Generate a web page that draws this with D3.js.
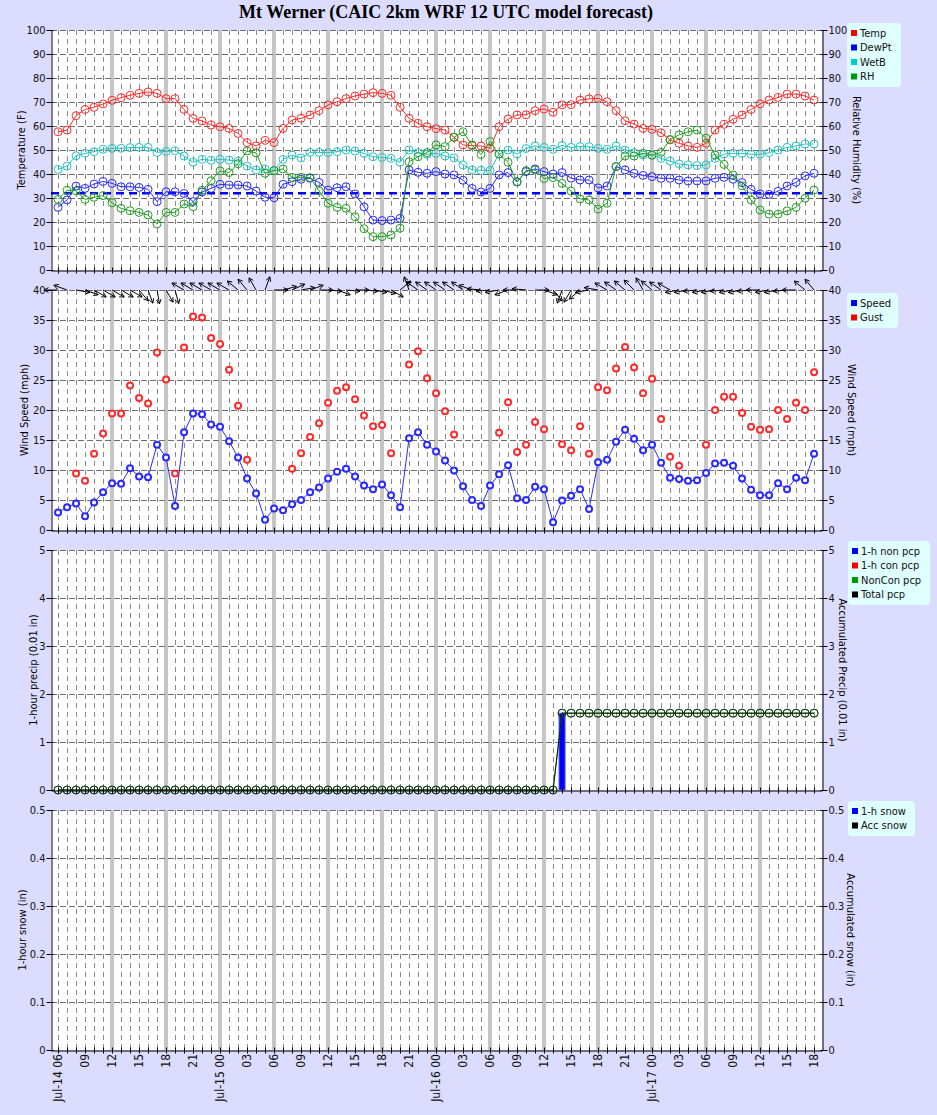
<!DOCTYPE html>
<html>
<head>
<meta charset="utf-8">
<script src="https://cdn.jsdelivr.net/npm/d3@7"></script>
<style>
  body { margin: 0; background: #dcdcff; }
  svg text { font-family: "DejaVu Sans Condensed", "DejaVu Sans", sans-serif; }
</style>
</head>
<body>
<svg id="chart" width="937" height="1115"></svg>
<script>
// hourly forecast times, Jul-14 06 UTC .. Jul-17 18 UTC
var times = d3.utcHour.range(new Date(Date.UTC(2020, 6, 14, 6)), new Date(Date.UTC(2020, 6, 17, 19)));

var temp = [57.6,58.3,64.3,66.9,67.8,69.2,70.7,71.8,72.8,73.6,
  74.2,73.6,71.4,71.4,66.9,63.2,62.1,60.4,59.7,59.0,
  56.9,53.1,51.7,54.0,53.1,59.0,62.5,63.2,64.6,66.4,
  68.8,70.1,71.4,72.5,73.3,73.9,73.6,72.8,67.8,63.2,
  61.1,59.7,58.9,58.3,55.3,52.1,51.8,51.7,50.7,59.7,
  62.9,64.6,64.7,66.4,67.1,65.7,68.8,68.9,70.8,71.3,
  71.5,70.1,66.4,62.2,60.8,59.0,58.6,57.2,54.2,52.8,
  51.7,51.1,52.8,58.3,60.7,62.8,64.6,66.9,69.2,70.8,
  71.9,73.3,73.3,72.5,70.8];

var dewpt = [26.1,29.2,35.0,34.0,35.8,36.9,36.1,34.7,34.7,34.4,
  33.6,28.5,32.6,32.6,31.9,28.5,32.5,34.0,35.7,35.4,
  35.4,35.0,32.9,30.3,30.1,35.7,36.8,37.8,38.2,36.5,
  33.3,34.3,34.7,31.7,26.3,20.8,20.6,20.8,21.5,41.7,
  40.7,40.3,41.0,40.0,39.6,37.4,34.0,32.5,34.0,39.6,
  40.6,36.7,41.0,42.1,41.0,40.0,40.6,38.3,37.5,37.5,
  34.2,35.0,43.1,41.7,40.3,39.4,38.9,38.2,38.2,37.5,
  37.1,37.1,37.1,38.2,38.6,37.8,36.4,33.6,31.7,31.5,
  32.8,35.0,36.5,39.2,40.3];

var wetb = [41.9,43.3,47.6,48.6,49.3,50.3,50.7,50.7,51.0,51.1,
  51.1,49.0,49.4,49.7,47.5,44.9,46.1,45.7,46.1,45.8,
  45.4,43.3,41.7,42.1,41.4,46.1,47.9,46.7,49.0,49.0,
  48.9,49.3,50.0,49.6,48.6,47.2,46.9,46.5,44.9,50.0,
  48.9,48.2,48.6,47.5,46.7,43.8,41.7,41.5,41.5,48.3,
  50.0,48.3,50.6,51.7,51.1,50.3,51.9,51.1,51.4,51.4,
  50.7,50.3,51.7,50.0,48.9,47.9,47.8,46.5,45.4,44.2,
  43.8,43.5,43.8,46.5,48.3,48.6,48.6,48.2,48.2,48.9,
  50.0,51.1,51.7,52.5,52.5];

var rh = [29.4,33.2,33.0,29.4,30.3,31.0,28.0,25.7,24.7,24.0,
  22.9,19.2,24.0,24.0,27.5,26.4,33.2,37.2,41.3,40.6,
  44.3,49.6,48.8,40.3,41.4,42.1,38.6,38.6,38.5,33.0,
  27.8,26.1,25.7,22.2,17.2,13.9,13.9,14.6,17.4,45.1,
  47.2,48.9,52.1,51.4,55.3,57.6,52.1,48.1,53.5,48.3,
  44.9,36.8,41.4,41.7,38.1,38.5,36.1,32.9,29.6,29.2,
  25.4,27.8,43.1,47.5,47.5,48.6,47.9,49.0,54.4,56.3,
  57.6,58.3,54.9,47.9,44.0,39.6,35.1,29.2,25.0,23.3,
  23.3,24.6,26.1,29.9,33.3];

var freezing = 32;

var speed = [2.9,3.8,4.4,2.3,4.6,6.3,7.8,7.7,10.3,8.9,
  8.8,14.2,12.1,4.0,16.3,19.4,19.3,17.6,17.2,14.8,
  12.1,8.6,6.1,1.7,3.6,3.3,4.3,5.0,6.3,7.1,
  8.6,9.7,10.2,8.9,7.4,6.8,7.6,5.8,3.8,15.3,
  16.3,14.2,13.1,11.6,9.9,7.3,5.0,4.0,7.4,9.3,
  10.8,5.3,5.0,7.2,6.8,1.3,4.9,5.7,6.8,3.5,
  11.3,11.7,14.7,16.7,15.2,13.3,14.2,11.2,8.7,8.5,
  8.2,8.3,9.5,11.1,11.2,10.7,8.6,6.7,5.8,5.8,
  7.8,6.8,8.7,8.3,12.7];

var gust = [null,null,9.4,8.2,12.7,16.1,19.4,19.4,24.1,22.0,
  21.1,29.6,25.1,9.4,30.4,35.6,35.4,32.0,31.0,26.7,
  20.7,11.7,null,null,null,null,10.2,12.8,15.5,17.8,
  21.2,23.2,23.8,21.8,19.1,17.3,17.5,12.8,null,27.6,
  29.8,25.3,22.8,19.8,15.9,null,null,null,null,16.2,
  21.3,13.0,14.2,18.0,16.8,null,14.3,13.3,17.3,12.7,
  23.8,23.3,26.9,30.5,27.1,22.8,25.2,18.5,12.2,10.7,
  null,null,14.2,20.0,22.2,22.2,19.5,17.2,16.7,16.8,
  20.0,18.5,21.2,20.0,26.3];

// direction the wind blows from (deg)
var windDir = [90,110,280,290,300,300,300,300,300,320,
  340,350,330,345,120,120,120,120,120,120,
  130,140,150,200,270,255,245,260,250,270,
  275,290,275,270,275,280,285,300,230,160,
  125,125,125,125,125,125,110,95,85,80,
  70,90,95,270,290,320,20,30,50,80,
  100,120,125,130,135,150,130,125,120,80,
  80,85,80,80,85,80,80,85,90,80,
  80,85,90,130,140];

// 1-hour precip, hundredths of an inch
var pcpNonCon = [0,0,0,0,0,0,0,0,0,0,
  0,0,0,0,0,0,0,0,0,0,
  0,0,0,0,0,0,0,0,0,0,
  0,0,0,0,0,0,0,0,0,0,
  0,0,0,0,0,0,0,0,0,0,
  0,0,0,0,0,0,1.6,0,0,0,
  0,0,0,0,0,0,0,0,0,0,
  0,0,0,0,0,0,0,0,0,0,
  0,0,0,0,0];
var pcpCon = pcpNonCon.map(function(){ return 0; });

var yTicks1 = d3.range(0, 101, 10);
var yTicks2 = d3.range(0, 41, 5);
var yTicks3 = [0,1,2,3,4,5];
var yTicks4 = [0,0.1,0.2,0.3,0.4,0.5];

var svg = d3.select('#chart');
var plotLeft = 51, plotRight = 822;

svg.append('rect').attr('width', 937).attr('height', 1115).attr('fill', '#dcdcff');

svg.append('text')
  .attr('x', 446).attr('y', 18)
  .attr('text-anchor', 'middle')
  .style('font-family', '"Liberation Serif", "DejaVu Serif", serif')
  .style('font-weight', 'bold')
  .style('font-size', '18px')
  .text('Mt Werner (CAIC 2km WRF 12 UTC model forecast)');

var x = d3.scaleUtc()
  .domain([d3.utcMinute.offset(times[0], -47), d3.utcMinute.offset(times[times.length - 1], 53)])
  .range([plotLeft, plotRight]);

// pixel-snapped x for grid lines
function px(d) { return Math.round(x(d)) + 0.5; }

// gray bars at 00/06/12/18, not at the ends
var bandTimes = times.filter(function(t, i){
  return i > 0 && i < times.length - 1 && t.getUTCHours() % 6 === 0;
});

function drawFrame(p) {
  var y = d3.scaleLinear().domain([0, p.max]).range([p.bottom, p.top]);
  var g = svg.append('g');

  g.append('rect')
    .attr('x', plotLeft).attr('y', p.top)
    .attr('width', plotRight - plotLeft).attr('height', p.bottom - p.top)
    .attr('fill', '#fff');

  // hourly dashed grid
  g.selectAll('.vgrid').data(times).enter().append('line')
    .attr('x1', px).attr('x2', px)
    .attr('y1', p.top).attr('y2', p.bottom)
    .attr('stroke', '#8a8a8a').attr('stroke-dasharray', '5,4');

  g.selectAll('.band').data(bandTimes).enter().append('rect')
    .attr('x', function(d){ return Math.round(x(d)) - 2; })
    .attr('y', p.top).attr('width', 4).attr('height', p.bottom - p.top)
    .attr('fill', '#c6c6c6').attr('shape-rendering', 'crispEdges');

  g.selectAll('.hgrid').data(p.ticks.slice(1)).enter().append('line')
    .attr('x1', plotLeft).attr('x2', plotRight)
    .attr('y1', function(d){ return Math.round(y(d)) + 0.5; })
    .attr('y2', function(d){ return Math.round(y(d)) + 0.5; })
    .attr('stroke', '#6e6e6e').attr('stroke-dasharray', '6,3');

  p.y = y;
  p.g = g;
  return p;
}

function drawAxes(p) {
  var y = p.y;
  var fmt = d3.format('~g');
  var g = svg.append('g');

  var left = g.append('g').attr('transform', 'translate(' + (plotLeft + 0.5) + ',0)')
    .call(d3.axisLeft(y).tickValues(p.ticks).tickFormat(fmt).tickSizeInner(5).tickSizeOuter(0).tickPadding(1));
  left.selectAll('.tick line').attr('x1', 2);

  var right = g.append('g').attr('transform', 'translate(' + (plotRight + 0.5) + ',0)')
    .call(d3.axisRight(y).tickValues(p.ticks).tickFormat(fmt).tickSizeInner(5).tickSizeOuter(0).tickPadding(1));
  right.selectAll('.tick line').attr('x1', -2);

  var bottom = g.append('g').attr('transform', 'translate(0,' + (p.bottom + 0.5) + ')')
    .call(d3.axisBottom(x).tickValues(times).tickFormat('').tickSizeInner(3).tickSizeOuter(0));
  bottom.selectAll('.tick').attr('transform', function(d){ return 'translate(' + px(d) + ',0)'; });
  bottom.selectAll('.tick line').attr('y1', -3);

  g.selectAll('.domain, .tick line').attr('stroke', '#000');
  g.selectAll('text').attr('font-family', null).style('font-size', '11px').attr('fill', '#111');

  var mid = (p.top + p.bottom) / 2;
  g.append('text')
    .attr('transform', 'translate(' + p.leftX + ',' + mid + ') rotate(-90)')
    .attr('text-anchor', 'middle').attr('dy', '0.35em')
    .style('font-size', '11px').text(p.leftTitle);
  g.append('text')
    .attr('transform', 'translate(' + p.rightX + ',' + mid + ') rotate(90)')
    .attr('text-anchor', 'middle').attr('dy', '0.35em')
    .style('font-size', '11px').text(p.rightTitle);
}

function drawLegend(x0, y0, w, items) {
  var g = svg.append('g');
  g.append('rect')
    .attr('x', x0).attr('y', y0).attr('rx', 4)
    .attr('width', w).attr('height', items.length * 14.5 + 6)
    .attr('fill', '#e0ffff');
  items.forEach(function(it, i){
    var cy = y0 + 10 + i * 14.5;
    g.append('rect').attr('x', x0 + 4).attr('y', cy - 3).attr('width', 6).attr('height', 6).attr('fill', it.color);
    g.append('text').attr('x', x0 + 13).attr('y', cy).attr('dy', '0.35em')
      .style('font-size', '11px').attr('fill', '#111').text(it.label);
  });
}

function lineSeries(g, y, values, color, r, sw, fill, withLine) {
  var pts = values.map(function(v, i){ return {t: times[i], v: v}; })
    .filter(function(d){ return d.v !== null; });
  if (withLine) {
    g.append('path')
      .datum(pts)
      .attr('d', d3.line().x(function(d){ return x(d.t); }).y(function(d){ return y(d.v); }))
      .attr('fill', 'none').attr('stroke', color).attr('stroke-width', 1);
  }
  g.selectAll(null).data(pts).enter().append('circle')
    .attr('cx', function(d){ return x(d.t); })
    .attr('cy', function(d){ return y(d.v); })
    .attr('r', r)
    .attr('fill', fill).attr('stroke', color).attr('stroke-width', sw);
}

// ---- panel 1 : temperatures + RH
var p1 = drawFrame({top: 30, bottom: 270, max: 100, ticks: yTicks1,
  leftTitle: 'Temperature (F)', rightTitle: 'Relative Humidity (%)', leftX: 21, rightX: 857});
p1.g.append('line')
  .attr('x1', plotLeft).attr('x2', plotRight)
  .attr('y1', p1.y(freezing)).attr('y2', p1.y(freezing))
  .attr('stroke', '#0000ff').attr('stroke-width', 2.5).attr('stroke-dasharray', '8,5');
lineSeries(p1.g, p1.y, temp, '#ff2a2a', 4, 1, 'none', true);
lineSeries(p1.g, p1.y, dewpt, '#2a2aff', 4, 1, 'none', true);
lineSeries(p1.g, p1.y, wetb, '#22c4c4', 4, 1, 'none', true);
lineSeries(p1.g, p1.y, rh, '#22a022', 4, 1, 'none', true);
drawAxes(p1);
drawLegend(847, 23, 54, [
  {label: 'Temp', color: '#ff0000'},
  {label: 'DewPt', color: '#0000ff'},
  {label: 'WetB', color: '#00cccc'},
  {label: 'RH', color: '#009900'}]);

// ---- panel 2 : wind
var p2 = drawFrame({top: 290, bottom: 530, max: 40, ticks: yTicks2,
  leftTitle: 'Wind Speed (mph)', rightTitle: 'Wind Speed (mph)', leftX: 24, rightX: 852});
lineSeries(p2.g, p2.y, speed, '#2a2aff', 3, 2, '#fff', true);
lineSeries(p2.g, p2.y, gust, '#ff2a2a', 3, 2, '#fff', false);
drawAxes(p2);
drawLegend(847, 293, 51, [
  {label: 'Speed', color: '#0000ff'},
  {label: 'Gust', color: '#ff0000'}]);

// wind direction arrows along the top of the wind panel
var arrows = svg.append('g').attr('stroke', '#000').attr('fill', 'none').attr('stroke-width', 1);
windDir.forEach(function(dir, i){
  var b = (dir + 180) * Math.PI / 180;
  var L = 14, hs = 5, ha = 0.5;
  var x0 = x(times[i]), y0 = 290;
  var x1 = x0 + Math.sin(b) * L, y1 = y0 - Math.cos(b) * L;
  var a = Math.atan2(y1 - y0, x1 - x0);
  var d = 'M' + x0 + ',' + y0 + 'L' + x1 + ',' + y1 +
    'M' + (x1 - hs * Math.cos(a - ha)) + ',' + (y1 - hs * Math.sin(a - ha)) + 'L' + x1 + ',' + y1 +
    'L' + (x1 - hs * Math.cos(a + ha)) + ',' + (y1 - hs * Math.sin(a + ha));
  arrows.append('path').attr('d', d);
});

// ---- panel 3 : precip
var p3 = drawFrame({top: 550, bottom: 790, max: 5, ticks: yTicks3,
  leftTitle: '1-hour precip (0.01 in)', rightTitle: 'Accumulated Precip (0.01 in)', leftX: 33, rightX: 843});
p3.g.selectAll('.bar').data(times.filter(function(t, i){ return pcpNonCon[i] > 0; })).enter().append('rect')
  .attr('x', function(d){ return x(d) - 3; })
  .attr('width', 6)
  .attr('y', function(d){ return p3.y(pcpNonCon[times.indexOf(d)]); })
  .attr('height', function(d){ return p3.y(0) - p3.y(pcpNonCon[times.indexOf(d)]); })
  .attr('fill', '#0000ff').attr('stroke', '#5050ff');
var accNonCon = Array.from(d3.cumsum(pcpNonCon));
var accCon = Array.from(d3.cumsum(pcpCon));
var accTotal = accNonCon.map(function(v, i){ return v + accCon[i]; });
lineSeries(p3.g, p3.y, accNonCon, '#1f8f1f', 4, 1, 'none', true);
lineSeries(p3.g, p3.y, accTotal, '#0a1a0a', 4, 0.8, 'none', true);
drawAxes(p3);
drawLegend(848, 541, 82, [
  {label: '1-h non pcp', color: '#0000ff'},
  {label: '1-h con pcp', color: '#ff0000'},
  {label: 'NonCon pcp', color: '#009900'},
  {label: 'Total pcp', color: '#000000'}]);

// ---- panel 4 : snow (nothing forecast)
var p4 = drawFrame({top: 810, bottom: 1050, max: 0.5, ticks: yTicks4,
  leftTitle: '1-hour snow (in)', rightTitle: 'Accumulated snow (in)', leftX: 22, rightX: 851});
drawAxes(p4);
drawLegend(848, 801, 67, [
  {label: '1-h snow', color: '#0000ff'},
  {label: 'Acc snow', color: '#000000'}]);

// time labels under the bottom panel
var fmtDay = d3.utcFormat('%b-%d %H'), fmtHour = d3.utcFormat('%H');
svg.append('g').selectAll('text')
  .data(times.filter(function(t){ return t.getUTCHours() % 3 === 0; }))
  .enter().append('text')
  .attr('transform', function(d){ return 'translate(' + x(d) + ',1054) rotate(-90)'; })
  .attr('text-anchor', 'end').attr('dy', '0.35em')
  .style('font-size', '12px').attr('fill', '#111')
  .text(function(d, i){ return (i === 0 || d.getUTCHours() === 0) ? fmtDay(d) : fmtHour(d); });
</script>
</body>
</html>
